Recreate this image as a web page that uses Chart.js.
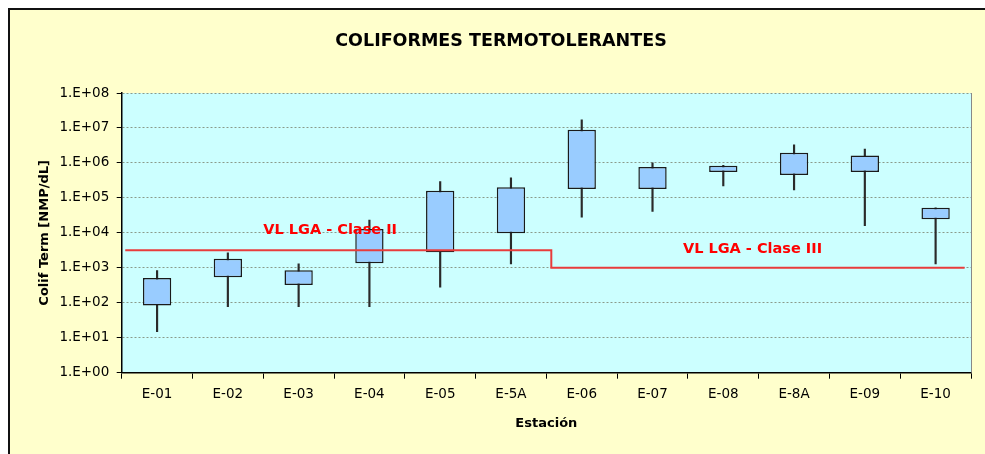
<!DOCTYPE html>
<html>
<head>
<meta charset="utf-8">
<script src="https://cdn.jsdelivr.net/npm/chart.js@4.4.0/dist/chart.umd.min.js"></script>
<style>
    html, body { margin: 0; padding: 0; background: #fff; overflow: hidden; }
    #paper { position: absolute; left: 10px; top: 10px; right: 0; bottom: 0; background: #FFFFCC; overflow: hidden; }
    #lineTop { position: absolute; left: 8px; top: 8px; right: 0; height: 2px; background: #111; }
    #lineLeft { position: absolute; left: 8px; top: 8px; bottom: 0; width: 2px; background: #111; }
    #chart { position: absolute; left: 0; top: 0; }
</style>
</head>
<body>
<div id="lineTop"></div>
<div id="lineLeft"></div>
<div id="paper"><canvas id="chart" width="982" height="444"></canvas></div>
<script>
// Stations and values (NMP/dL)
const stations = ['E-01', 'E-02', 'E-03', 'E-04', 'E-05', 'E-5A', 'E-06', 'E-07', 'E-08', 'E-8A', 'E-09', 'E-10'];
const minVals  = [15, 78, 78, 78, 280, 1300, 28000, 41000, 220000, 170000, 16000, 1300];
const boxLow   = [83, 540, 320, 1350, 2800, 9800, 180000, 180000, 550000, 450000, 550000, 24500];
const boxHigh  = [515, 1830, 850, 12800, 160000, 200000, 8900000, 760000, 830000, 1950000, 1630000, 52000];
const maxVals  = [830, 2700, 1300, 23000, 295000, 375000, 17000000, 1000000, 850000, 3300000, 2500000, 52000];

// Limit line (VL LGA), x in category units
const limitX = [0.05, 6.07, 6.07, 11.91];
const limitY = [3200, 3200, 1000, 1000];
const limitLabels = ['VL LGA - Clase II', 'VL LGA - Clase III'];
const limitLabelX = [2.0, 7.93];
const limitLabelY = [11500, 3300];

// y ticks: powers of ten
const decades = [0, 1, 2, 3, 4, 5, 6, 7, 8];

const FONT = "'DejaVu Sans', sans-serif";

// paint the plot area and its right edge
const plotArea = {
    id: 'plotArea',
    beforeDraw(chart) {
        const a = chart.chartArea;
        const ctx = chart.ctx;
        ctx.save();
        ctx.fillStyle = '#CCFFFF';
        ctx.fillRect(a.left, a.top, a.right - a.left, a.bottom - a.top);
        ctx.restore();
    },
    afterDraw(chart) {
        const a = chart.chartArea;
        const ctx = chart.ctx;
        ctx.save();
        ctx.strokeStyle = '#888';
        ctx.lineWidth = 1;
        ctx.beginPath();
        ctx.moveTo(Math.round(a.right) + 0.5, a.top);
        ctx.lineTo(Math.round(a.right) + 0.5, a.bottom);
        ctx.stroke();
        ctx.restore();
    }
};

// red labels of the limit line
const limitText = {
    id: 'limitText',
    afterDatasetsDraw(chart) {
        const ctx = chart.ctx;
        const xs = chart.scales.xl;
        const ys = chart.scales.y;
        ctx.save();
        ctx.fillStyle = '#FF0000';
        ctx.font = 'bold 14.5px ' + FONT;
        ctx.textAlign = 'left';
        ctx.textBaseline = 'middle';
        limitLabels.forEach((t, i) => {
            ctx.fillText(t, xs.getPixelForValue(limitLabelX[i]), ys.getPixelForValue(limitLabelY[i]));
        });
        ctx.restore();
    }
};

new Chart(document.getElementById('chart'), {
    type: 'bar',
    data: {
        labels: stations,
        datasets: [
            {
                type: 'line',
                label: 'VL LGA',
                xAxisID: 'xl',
                data: limitX.map((x, i) => ({ x: x, y: limitY[i] })),
                borderColor: '#E83C3C',
                borderWidth: 2,
                pointRadius: 0,
                tension: 0,
                order: 1
            },
            {
                label: 'caja',
                data: stations.map((_, i) => [boxLow[i], boxHigh[i]]),
                backgroundColor: '#99CCFF',
                borderColor: '#1a1a1a',
                borderWidth: 1.5,
                borderSkipped: false,
                barPercentage: 0.4,
                categoryPercentage: 1,
                grouped: false,
                order: 2
            },
            {
                label: 'rango',
                data: stations.map((_, i) => [minVals[i], maxVals[i]]),
                backgroundColor: '#2a2a2a',
                borderWidth: 0,
                barThickness: 1.5,
                grouped: false,
                order: 3
            }
        ]
    },
    options: {
        responsive: false,
        animation: false,
        devicePixelRatio: 1,
        layout: { padding: 0 },
        plugins: {
            legend: { display: false },
            tooltip: { enabled: false },
            title: {
                display: true,
                text: 'COLIFORMES TERMOTOLERANTES',
                color: '#000',
                font: { family: FONT, size: 17.5, weight: 'bold' },
                padding: { top: 20.5, bottom: 41.5 }
            }
        },
        scales: {
            x: {
                type: 'category',
                offset: true,
                afterFit: s => { s.height = 81.3; },
                grid: { offset: true, drawOnChartArea: false, tickLength: 6, color: '#000', tickColor: '#000' },
                border: { display: true, color: '#000', width: 1.5 },
                ticks: { color: '#000', font: { family: FONT, size: 13.5 }, padding: 8, maxRotation: 0, autoSkip: false },
                title: {
                    display: true,
                    text: 'Estación',
                    color: '#000',
                    font: { family: FONT, size: 13, weight: 'bold' },
                    padding: { top: 0, bottom: 22.9 }
                }
            },
            xl: { type: 'linear', min: 0, max: 12, offset: false, display: false },
            y: {
                type: 'logarithmic',
                min: 1,
                max: 1e8,
                afterFit: s => { s.width = 111.7; },
                afterBuildTicks: s => { s.ticks = decades.map(e => ({ value: Math.pow(10, e) })); },
                grid: { color: '#8a9a8a', tickColor: '#000', tickLength: 5, tickBorderDash: [] },
                border: { display: true, color: '#000', width: 1.5, dash: [2, 2] },
                ticks: {
                    color: '#000',
                    font: { family: FONT, size: 13.5 },
                    padding: 7.4,
                    autoSkip: false,
                    callback: v => '1.E+' + String(Math.round(Math.log10(v))).padStart(2, '0')
                },
                title: {
                    display: true,
                    text: 'Colif Term [NMP/dL]',
                    color: '#000',
                    font: { family: FONT, size: 13, weight: 'bold' },
                    padding: { top: 27.2, bottom: 0 }
                }
            },
            // empty right-hand axis, only keeps space so the title stays centred on the whole frame
            yr: {
                type: 'linear',
                position: 'right',
                afterFit: s => { s.width = 21; },
                grid: { display: false },
                border: { display: false },
                ticks: { display: false }
            }
        }
    },
    plugins: [plotArea, limitText]
});
</script>
</body>
</html>
